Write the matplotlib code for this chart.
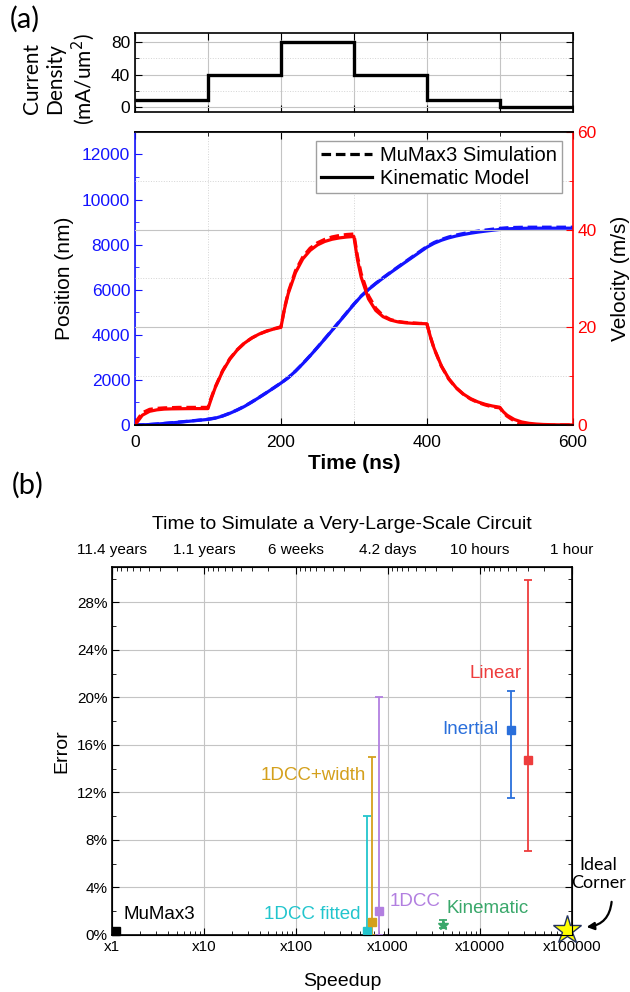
import numpy as np
import matplotlib.pyplot as plt
from matplotlib.ticker import MultipleLocator, LogLocator, NullFormatter, FuncFormatter
from matplotlib.lines import Line2D

plt.rcParams['font.family'] = ['Liberation Sans', 'DejaVu Sans']

# ---- panel (a): current pulses
t_edges = [0, 100, 200, 300, 400, 500, 600]
current_density = [8, 40, 80, 40, 8, 0]

# ---- panel (a): position (nm), 10 ns grid
t_pos = list(range(0, 601, 10))
pos_kinematic = [0, 5, 20, 40, 65, 92, 121, 152, 183, 215, 248,
                 302, 395, 518, 662, 822, 1015, 1217, 1426, 1640, 1858,
                 2095, 2388, 2717, 3069, 3435, 3810, 4191, 4576, 4963, 5351,
                 5712, 6009, 6272, 6517, 6752, 6982, 7209, 7435, 7660, 7884,
                 8060, 8195, 8300, 8383, 8450, 8507, 8556, 8599, 8638, 8674,
                 8700, 8715, 8723, 8727, 8729, 8730, 8730, 8730, 8730, 8730]
pos_mumax = [0, 6, 22, 44, 70, 98, 128, 159, 191, 223, 256,
             310, 402, 524, 668, 828, 1020, 1222, 1431, 1645, 1862,
             2100, 2394, 2724, 3077, 3444, 3820, 4202, 4588, 4976, 5365,
             5720, 6020, 6285, 6532, 6770, 7002, 7231, 7460, 7688, 7915,
             8095, 8232, 8340, 8425, 8494, 8552, 8602, 8646, 8686, 8722,
             8748, 8762, 8770, 8773, 8774, 8774, 8774, 8774, 8774, 8774]

# ---- panel (a): velocity (m/s)
t_vel = [0, 10, 20, 30, 40, 50, 60, 70, 80, 90, 100,
         105, 110, 120, 130, 140, 150, 160, 170, 180, 190, 200,
         205, 210, 220, 230, 240, 250, 260, 270, 280, 290, 300,
         305, 310, 320, 330, 340, 350, 360, 370, 380, 390, 400,
         405, 410, 420, 430, 440, 450, 460, 470, 480, 490, 500,
         505, 510, 520, 530, 540, 550, 560, 570, 580, 590, 600]
vel_kinematic = [0, 2.0, 2.8, 3.1, 3.25, 3.3, 3.32, 3.34, 3.35, 3.35, 3.35,
                 5.6, 7.66, 10.98, 13.47, 15.34, 16.75, 17.8, 18.6, 19.19, 19.64, 19.98,
                 23.8, 26.9, 31.2, 34.0, 35.74, 36.86, 37.57, 38.02, 38.3, 38.48, 38.6,
                 33.8, 30.28, 25.83, 23.45, 22.17, 21.49, 21.12, 20.93, 20.82, 20.76, 20.73,
                 18.0, 15.68, 12.09, 9.51, 7.67, 6.34, 5.39, 4.72, 4.23, 3.88, 3.63,
                 2.68, 2.0, 1.12, 0.62, 0.34, 0.19, 0.10, 0.06, 0.03, 0.02, 0.01]
vel_mumax = [0.4, 2.5, 3.2, 3.4, 3.5, 3.55, 3.6, 3.6, 3.6, 3.6, 3.6,
             5.8, 7.8, 11.1, 13.6, 15.4, 16.8, 17.8, 18.6, 19.2, 19.7, 20.1,
             24.0, 27.2, 31.6, 34.4, 36.2, 37.3, 38.0, 38.5, 38.8, 39.0, 39.1,
             34.5, 31.0, 26.5, 23.9, 22.4, 21.6, 21.2, 21.0, 20.9, 20.8, 20.8,
             18.0, 15.6, 12.0, 9.4, 7.6, 6.3, 5.3, 4.6, 4.1, 3.7, 3.5,
             2.5, 1.8, 0.8, 0.2, -0.1, -0.2, -0.15, -0.1, 0.0, 0.0, 0.0]

# ---- panel (b): speedup vs error
methods = ['MuMax3', '1DCC fitted', '1DCC+width', '1DCC', 'Kinematic', 'Inertial', 'Linear']
speedup = [1.1, 586, 670, 798, 3940, 21800, 33100]
error = [0.36, 0.36, 1.06, 2.04, 0.84, 17.25, 14.76]
error_low = [0.36, 0.0, 0.0, 0.0, 0.55, 11.55, 7.1]
error_high = [0.36, 10.0, 15.0, 20.0, 1.25, 20.55, 29.9]
colors = ['black', '#22c5cd', '#d4a01c', '#b27fe0', '#3aa86b', '#2a6fdb', '#ee3d3d']
markers = ['s', 's', 's', 's', '*', 's', 's']
ideal_speedup = 88000
ideal_error = 0.42

speed_ticks = [1, 10, 100, 1000, 10000, 100000]
speed_labels = ['x1', 'x10', 'x100', 'x1000', 'x10000', 'x100000']
sim_hours = [100000, 10000, 1000, 100, 10, 1]
sim_labels = ['11.4 years', '1.1 years', '6 weeks', '4.2 days', '10 hours', '1 hour']

BLUE = '#1414ff'
RED = '#ff0000'
GRID = '#c4c4c4'

fig = plt.figure(figsize=(6.3, 9.92), dpi=100)

# ---------------- current density panel
ax_j = fig.add_axes([0.2143, 0.8871, 0.6948, 0.0796])
ax_j.stairs(current_density, t_edges, color='black', lw=2.4, baseline=None)
ax_j.set_xlim(0, 600)
ax_j.set_ylim(-6.6, 91.6)
ax_j.set_yticks([0, 40, 80])
ax_j.yaxis.set_minor_locator(MultipleLocator(20))
ax_j.xaxis.set_major_locator(MultipleLocator(100))
ax_j.set_xticklabels([])
ax_j.grid(which='major', color=GRID, lw=0.8)
ax_j.grid(which='minor', axis='y', color='#d4d4d4', lw=0.7, ls=':')
ax_j.set_axisbelow(True)
ax_j.tick_params(which='both', direction='in', top=True, right=True, labelsize=12.5)
ax_j.tick_params(which='major', length=5)
ax_j.tick_params(which='minor', length=3)
for s in ax_j.spines.values():
    s.set_linewidth(1.2)
ax_j.set_ylabel('Current\nDensity\n(mA/um$^2$)', fontsize=15, family=['Lato', 'DejaVu Sans'],
                linespacing=1.2)
ax_j.yaxis.set_label_coords(-0.087, 0.42)

# ---------------- position / velocity panel
ax = fig.add_axes([0.2143, 0.5716, 0.6948, 0.2954])
ax.plot(t_pos, pos_kinematic, color=BLUE, lw=2.3)
ax.plot(t_pos, pos_mumax, color=BLUE, lw=2.3, ls=(0, (3, 1.5)))
ax.set_xlim(0, 600)
ax.set_ylim(0, 13000)
ax.xaxis.set_major_locator(MultipleLocator(200))
ax.xaxis.set_minor_locator(MultipleLocator(100))
ax.yaxis.set_major_locator(MultipleLocator(2000))
ax.yaxis.set_minor_locator(MultipleLocator(1000))
ax.grid(axis='x', which='major', color=GRID, lw=0.8)
ax.grid(axis='x', which='minor', color='#d4d4d4', lw=0.7, ls=':')
ax.set_axisbelow(True)
ax.tick_params(which='both', direction='in', top=True, labelsize=12.5)
ax.tick_params(which='major', length=5)
ax.tick_params(which='minor', length=3)
ax.tick_params(axis='x', pad=7)
ax.tick_params(axis='y', which='both', colors=BLUE)
ax.spines['left'].set_color(BLUE)
ax.spines['right'].set_visible(False)
for s in ax.spines.values():
    s.set_linewidth(1.2)
ax.set_ylabel('Position (nm)', fontsize=15, labelpad=6)
ax.set_xlabel('Time (ns)', fontsize=15, fontweight='bold', labelpad=3)

ax2 = ax.twinx()
ax2.plot(t_vel, vel_kinematic, color=RED, lw=2.3)
ax2.plot(t_vel, vel_mumax, color=RED, lw=2.3, ls=(0, (3, 1.5)))
ax2.set_ylim(0, 60)
ax2.yaxis.set_major_locator(MultipleLocator(20))
ax2.yaxis.set_minor_locator(MultipleLocator(10))
ax2.grid(axis='y', which='major', color=GRID, lw=0.8)
ax2.grid(axis='y', which='minor', color='#d4d4d4', lw=0.7, ls=':')
ax2.set_axisbelow(True)
ax2.tick_params(which='both', direction='in', colors=RED, labelsize=12.5)
ax2.tick_params(which='major', length=5)
ax2.tick_params(which='minor', length=3)
ax2.spines['right'].set_color(RED)
ax2.spines['left'].set_visible(False)
for s in ax2.spines.values():
    s.set_linewidth(1.2)
ax2.set_ylabel('Velocity (m/s)', fontsize=15, labelpad=10)

handles = [Line2D([], [], color='black', lw=2.3, ls=(0, (3, 1.5))),
           Line2D([], [], color='black', lw=2.3)]
ax2.legend(handles, ['MuMax3 Simulation', 'Kinematic Model'], loc='upper right',
           bbox_to_anchor=(0.975, 0.97), borderaxespad=0, fontsize=14.5, fancybox=False,
           edgecolor='#a0a0a0', framealpha=1, handlelength=2.5, borderpad=0.25,
           labelspacing=0.2, handletextpad=0.4)

# ---------------- speedup / error panel
axb = fig.add_axes([0.1783, 0.0575, 0.7292, 0.3712])
axb.set_xscale('log')
axb.set_xlim(1, 1e5)
axb.set_ylim(0, 31)
axb.set_xticks(speed_ticks, labels=speed_labels)
axb.xaxis.set_minor_locator(LogLocator(base=10, subs=np.arange(2, 10)))
axb.xaxis.set_minor_formatter(NullFormatter())
axb.yaxis.set_major_locator(MultipleLocator(4))
axb.yaxis.set_minor_locator(MultipleLocator(2))
axb.yaxis.set_major_formatter(FuncFormatter(lambda v, p: f'{v:.0f}%'))
axb.grid(which='major', color=GRID, lw=0.8)
axb.set_axisbelow(True)
axb.tick_params(which='both', direction='in', right=True, labelsize=11)
axb.tick_params(which='major', length=5)
axb.tick_params(which='minor', length=3)
for s in axb.spines.values():
    s.set_linewidth(1.2)
axb.set_xlabel('Speedup', fontsize=14, labelpad=14)
axb.set_ylabel('Error', fontsize=14, labelpad=5)

for x, y, lo, hi, c, m in zip(speedup, error, error_low, error_high, colors, markers):
    axb.errorbar([x], [y], yerr=[[y - lo], [hi - y]], fmt=m, color=c, ecolor=c,
                 ms=8 if m == '*' else 6, elinewidth=1.3, capsize=2.6, capthick=1.3,
                 clip_on=False, zorder=3)
axb.plot([ideal_speedup], [ideal_error], marker='*', ms=21, color='#ffff00',
         markeredgecolor='#24325e', markeredgewidth=1.0, clip_on=False, zorder=4)

lab_kw = dict(fontsize=13.5, va='center')
axb.text(1.31, 1.76, 'MuMax3', color=colors[0], ha='left', **lab_kw)
axb.text(497, 1.76, '1DCC fitted', color=colors[1], ha='right', **lab_kw)
axb.text(582, 13.4, '1DCC+width', color=colors[2], ha='right', **lab_kw)
axb.text(1052, 2.79, '1DCC', color=colors[3], ha='left', **lab_kw)
axb.text(4355, 2.24, 'Kinematic', color=colors[4], ha='left', **lab_kw)
axb.text(15850, 17.27, 'Inertial', color=colors[5], ha='right', **lab_kw)
axb.text(28500, 22.0, 'Linear', color=colors[6], ha='right', **lab_kw)
axb.text(194000, 5.1, 'Ideal\nCorner', ha='center', va='center', fontsize=13,
         family=['Lato', 'DejaVu Sans'], linespacing=1.15, clip_on=False)
axb.annotate('', xy=(145000, 0.67), xytext=(271700, 2.79), annotation_clip=False,
             arrowprops=dict(arrowstyle='-|>', color='black', lw=1.6, mutation_scale=11,
                             connectionstyle='arc3,rad=-0.4', shrinkA=0, shrinkB=0))

axt = axb.twiny()
axt.set_xscale('log')
axt.set_xlim(1e5, 1)
axt.set_xticks(sim_hours, labels=sim_labels)
axt.xaxis.set_minor_locator(LogLocator(base=10, subs=np.arange(2, 10)))
axt.xaxis.set_minor_formatter(NullFormatter())
axt.tick_params(which='both', direction='in', labelsize=11, pad=7)
axt.tick_params(which='major', length=5)
axt.tick_params(which='minor', length=3)
axt.set_xlabel('Time to Simulate a Very-Large-Scale Circuit', fontsize=14, labelpad=10)

fig.text(25 / 630, 1 - 19 / 992, '(a)', fontsize=21, ha='center', va='center',
         family=['Lato', 'DejaVu Sans'])
fig.text(28 / 630, 1 - 485 / 992, '(b)', fontsize=21, ha='center', va='center',
         family=['Lato', 'DejaVu Sans'])

fig.savefig('out.png', dpi=100, facecolor='white')
